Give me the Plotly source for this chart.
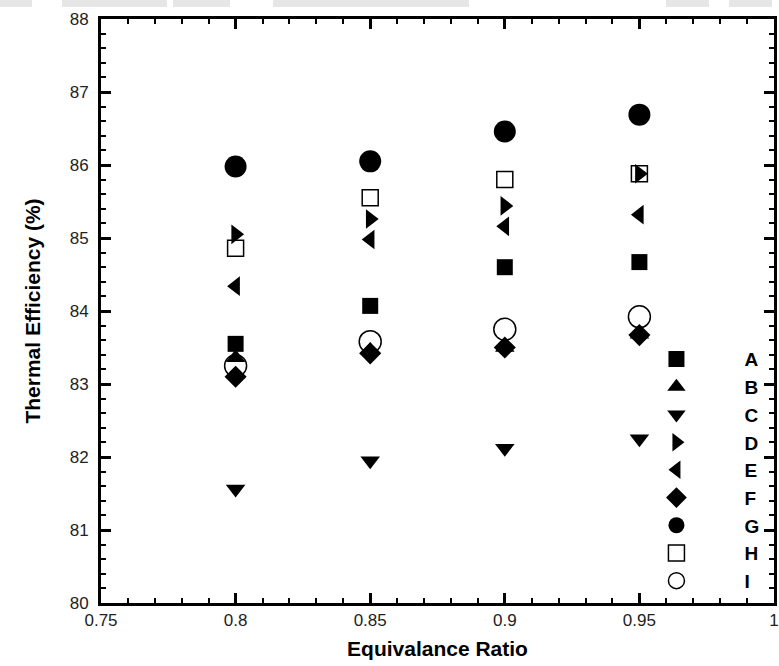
import plotly.graph_objects as go

ratio = [0.8, 0.85, 0.9, 0.95]
series_names = ["A", "B", "C", "D", "E", "F", "G", "H", "I"]
A = [83.55, 84.07, 84.60, 84.67]
B = [83.36, 83.46, 83.50, 83.68]
C = [81.56, 81.95, 82.12, 82.25]
D = [85.05, 85.26, 85.44, 85.88]
E = [84.34, 84.98, 85.16, 85.32]
F = [83.10, 83.42, 83.50, 83.67]
G = [85.98, 86.05, 86.46, 86.69]
H = [84.86, 85.55, 85.80, 85.88]
I = [83.25, 83.58, 83.75, 83.92]
values = [A, B, C, D, E, F, G, H, I]

symbols = ["square", "triangle-up", "triangle-down", "triangle-right", "triangle-left",
           "diamond", "circle", "square-open", "circle-open"]
sizes = [16, 17, 17, 17, 17, 17, 22, 16, 22]

fig = go.Figure()
for name, vals, sym, sz in zip(series_names, values, symbols, sizes):
    fig.add_trace(go.Scatter(
        x=ratio, y=vals, mode="markers", name="<b>" + name + "</b>",
        marker=dict(symbol=sym, size=sz, color="black",
                    line=dict(color="black", width=1.5 if "open" in sym else 0)),
    ))

axis_common = dict(
    showline=True, linecolor="black", linewidth=3, mirror="ticks",
    ticks="inside", ticklen=10, tickwidth=3, tickcolor="black",
    showgrid=False, zeroline=False, ticklabeloverflow="allow",
    tickfont=dict(family="Liberation Sans, Arial", size=17, color="#222"),
)

fig.update_xaxes(
    range=[0.75, 1.0], tick0=0.75, dtick=0.05,
    minor=dict(dtick=0.01, ticks="inside", ticklen=5, tickwidth=2, tickcolor="black"),
    title=dict(text="<b>Equivalance Ratio</b>", font=dict(family="Liberation Sans, Arial", size=21, color="black"), standoff=12),
    **axis_common,
)
fig.update_yaxes(
    range=[80, 88], tick0=80, dtick=1, ticklabelstandoff=6,
    minor=dict(dtick=0.2, ticks="inside", ticklen=5, tickwidth=2, tickcolor="black"),
    title=dict(text="<b>Thermal Efficiency (%)</b>", font=dict(family="Liberation Sans, Arial", size=21, color="black"), standoff=24),
    **axis_common,
)

# faint grey band along the top edge of the picture
band = [(0, 32), (62, 167), (173, 230), (273, 469), (666, 709), (729, 772)]
for a, b in band:
    fig.add_shape(type="rect", xref="paper", yref="paper",
                  xsizemode="pixel", ysizemode="pixel", xanchor=0, yanchor=1,
                  x0=a - 101, x1=b - 101, y0=12, y1=19,
                  fillcolor="#e6e6e6", line=dict(width=0), layer="below")

fig.update_layout(
    width=779, height=666,
    margin=dict(l=101, r=0, t=19, b=63),
    plot_bgcolor="white", paper_bgcolor="white",
    showlegend=True,
    legend=dict(
        x=0.754, y=0.45, xanchor="left", yanchor="top",
        bgcolor="rgba(0,0,0,0)", borderwidth=0,
        itemwidth=126,
        font=dict(family="Liberation Sans, Arial", size=19, color="black"),
    ),
)

fig.write_html("out.html")
